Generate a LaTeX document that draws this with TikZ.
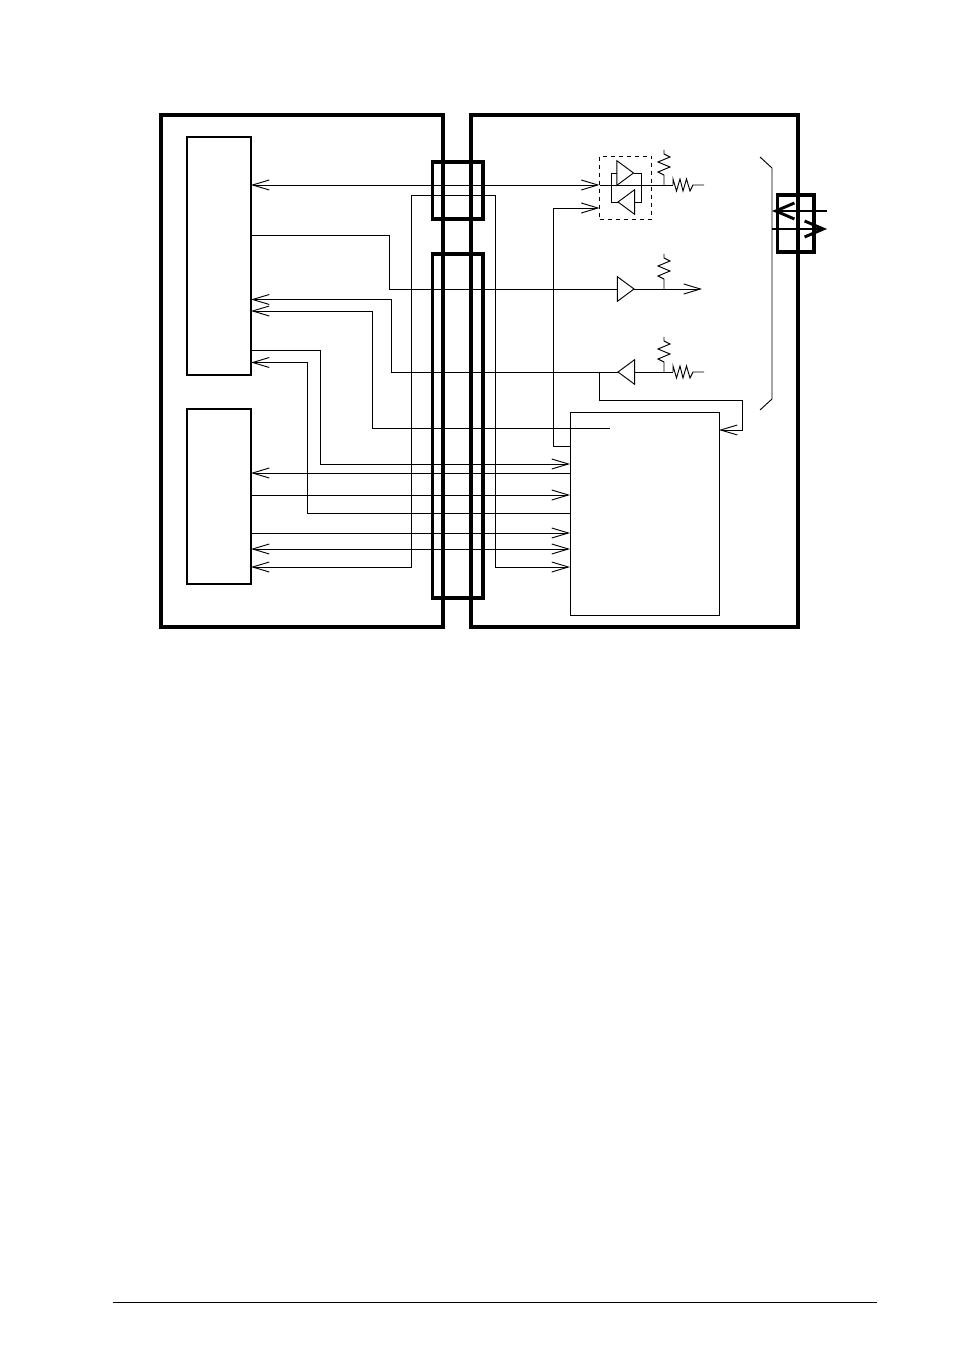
\documentclass[tikz,border=0pt]{standalone}
\usepackage{tikz}
\usetikzlibrary{positioning,shapes.geometric,arrows.meta}
\tikzset{
  wire/.style={line width=0.7pt},
  cardbox/.style={draw,line width=2.7pt,inner sep=0pt,outer sep=0pt},
  connbox/.style={draw,line width=2.7pt,inner sep=0pt,outer sep=0pt},
  chipbox/.style={draw,line width=1.3pt,inner sep=0pt,outer sep=0pt},
  asicbox/.style={draw,line width=0.7pt,inner sep=0pt,outer sep=0pt},
  groupbox/.style={draw,dashed,line width=0.6pt,inner sep=0pt,outer sep=0pt},
  buf/.style={draw,line width=0.7pt,isosceles triangle,isosceles triangle stretches,
    minimum width=18.5pt,minimum height=12.5pt,inner sep=0pt,outer sep=0pt},
  bigwire/.style={line width=1.9pt,-{Straight Barb[length=14pt,width=12pt,line width=2.2pt]}},
  pics/vres/.style={code={
    \draw[wire] (0,0) -- (0,-10) -- (-6,-13) -- (6,-18) -- (-6,-23) -- (6,-28) -- (0,-31) -- (0,-35);
  }},
  pics/hres/.style={code={
    \draw[wire] (0,0) -- (0,-6) -- (3.5,6) -- (7,-6) -- (10,6) -- (13.5,-6) -- (17,6) -- (20,0) -- (31,0);
  }}
}
\begin{document}
\begin{tikzpicture}[x=0.75pt,y=-0.75pt,>={Straight Barb[length=12.5pt,width=7.5pt]}]
  \useasboundingbox (0,0) rectangle (954,1351);
  \node[cardbox,minimum width=211.5pt,minimum height=384pt] (leftcard) at (302,371) {};
  \node[cardbox,minimum width=245.25pt,minimum height=384pt] (rightcard) at (634.5,371) {};
  \node[chipbox,minimum width=48pt,minimum height=178.5pt] (upperchip) at (219,256) {};
  \node[chipbox,minimum width=48pt,minimum height=131.25pt] (lowerchip) at (219,496.5) {};
  \node[asicbox,minimum width=111.75pt,minimum height=152.25pt] (asic) at (644.5,513.5) {};
  \node[groupbox,minimum width=39pt,minimum height=47.25pt] (group) at (625.5,187.5) {};
  \node[connbox,minimum width=38pt,minimum height=42.75pt] (connone) at (457.75,190.5) {};
  \node[connbox,minimum width=38pt,minimum height=258pt] (conntwo) at (457.75,426) {};
  \node[connbox,minimum width=27.4pt,minimum height=42.75pt] (connext) at (795.7,223.5) {};

  \node[buf,anchor=apex] (drvtop) at (633.5,173) {};
  \node[buf,shape border rotate=180,anchor=apex] (rcvtop) at (618,202) {};
  \node[buf,anchor=apex] (drvmid) at (634,289) {};
  \node[buf,shape border rotate=180,anchor=apex] (rcvlow) at (618,372) {};

  \coordinate (midout) at (702,289);
  \coordinate (topres) at (673,185);
  \coordinate (lowres) at (673,372);
  \coordinate (asicin) at (610,428);
  \coordinate (extin) at (827,211);
  \coordinate (extout) at (827,229);
  \coordinate (extinend) at (772,211);
  \coordinate (extoutstart) at (772,229);

  \draw[wire,<->] (upperchip.east |- 0,185) -- (group.west |- 0,185);
  \draw[wire] (group.west |- 0,185) -- (topres);
  \draw[wire,->] (asic.west |- 0,446) -- (553.5,446) -- (553.5,208) -- (group.west |- 0,208);
  \draw[wire] (upperchip.east |- 0,235) -- (389,235) -- (389,289) -- (drvmid.lower side);
  \draw[wire,->] (drvmid.apex) -- (midout);
  \draw[wire,->] (rcvlow.apex) -- (391,372) -- (391,299.5) -- (upperchip.east |- 0,299.5);
  \draw[wire,<-] (upperchip.east |- 0,311) -- (372,311) -- (372,428) -- (asicin);
  \draw[wire,->] (upperchip.east |- 0,350) -- (320,350) -- (320,464) -- (asic.west |- 0,464);
  \draw[wire,<-] (upperchip.east |- 0,362.5) -- (307.5,362.5) -- (307.5,513) -- (asic.west |- 0,513);
  \draw[wire,<-] (lowerchip.east |- 0,473) -- (asic.west |- 0,473);
  \draw[wire,->] (lowerchip.east |- 0,495) -- (asic.west |- 0,495);
  \draw[wire,->] (lowerchip.east |- 0,533) -- (asic.west |- 0,533);
  \draw[wire,<->] (lowerchip.east |- 0,549) -- (asic.west |- 0,549);
  \draw[wire,<->] (lowerchip.east |- 0,567) -- (411.5,567) -- (411.5,195) -- (495.5,195) -- (495.5,567) -- (asic.west |- 0,567);

  \draw[wire] (drvtop.lower side) -- (611.5,173) -- (611.5,202) -- (rcvtop.apex);
  \draw[wire] (drvtop.apex) -- (641.5,173) -- (641.5,202) -- (rcvtop.lower side);
  \draw[wire] (rcvlow.lower side) -- (lowres);
  \draw[wire,->] (599,372) -- (599,400) -- (742,400) -- (742,430) -- (asic.east |- 0,430);

  \pic at (664,185) {vres};
  \pic at (664,289) {vres};
  \pic at (664,372) {vres};
  \pic at (topres) {hres};
  \pic at (lowres) {hres};

  \draw[wire] (760,157) -- (772,168) -- (772,399) -- (760,410);
  \draw[bigwire] (extin) -- (extinend);
  \draw[bigwire] (extoutstart) -- (extout);

  \coordinate (footl) at (112.5,1302);
  \coordinate (footr) at (876.5,1302);
  \draw[line width=0.6pt] (footl) -- (footr);
\end{tikzpicture}
\end{document}
